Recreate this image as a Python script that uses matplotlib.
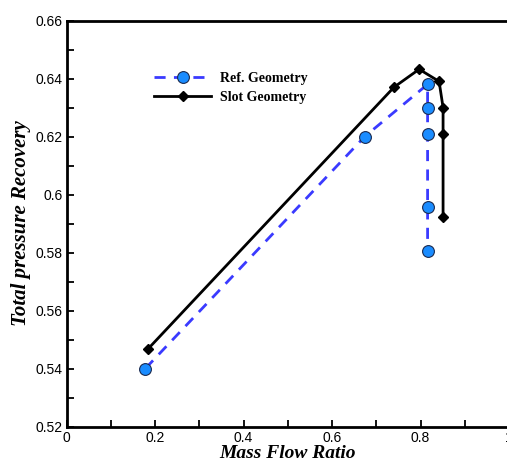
import matplotlib
matplotlib.use('Agg')
import matplotlib.pyplot as plt
import numpy as np
from matplotlib.ticker import MultipleLocator, FuncFormatter

# total pressure recovery vs mass flow ratio
ref_mfr = [0.178, 0.674, 0.816, 0.816, 0.816, 0.816, 0.816]
ref_tpr = [0.540, 0.620, 0.638, 0.630, 0.621, 0.5957, 0.5805]

slot_mfr = [0.183, 0.740, 0.797, 0.842, 0.851, 0.851, 0.851]
slot_tpr = [0.5466, 0.637, 0.6432, 0.639, 0.630, 0.6209, 0.5923]

fig = plt.figure(figsize=(5.07, 4.61), dpi=100)
ax = fig.add_axes([0.1315, 0.0748, 0.8724, 0.8807])

ax.plot(ref_mfr, ref_tpr, color='#3a3aff', ls=(0, (4, 3)), lw=2,
        marker='o', ms=8.5, mfc='#1a8cff', mec='#1a2a50', mew=0.8,
        label='Ref. Geometry', zorder=3)
ax.plot(slot_mfr, slot_tpr, color='black', lw=2,
        marker='D', ms=5, mfc='black', mec='black',
        label='Slot Geometry', zorder=4)

ax.set_xlim(0, 1)
ax.set_ylim(0.52, 0.66)
ax.xaxis.set_major_locator(MultipleLocator(0.2))
ax.xaxis.set_minor_locator(MultipleLocator(0.1))
ax.yaxis.set_major_locator(MultipleLocator(0.02))
ax.yaxis.set_minor_locator(MultipleLocator(0.01))
fmt = FuncFormatter(lambda v, p: f'{round(v, 3):g}')
ax.xaxis.set_major_formatter(fmt)
ax.yaxis.set_major_formatter(fmt)

ax.tick_params(which='both', direction='in', top=False, right=False, width=1.3)
ax.tick_params(which='major', length=5, labelsize=10, pad=3)
ax.tick_params(which='minor', length=5)
for lab in ax.get_xticklabels() + ax.get_yticklabels():
    lab.set_family('Liberation Sans')
for s in ['left', 'bottom', 'top', 'right']:
    ax.spines[s].set_linewidth(2)

ax.set_xlabel('Mass Flow Ratio', labelpad=0, family='Liberation Serif',
              weight='bold', style='italic', fontsize=14)
ax.set_ylabel('Total pressure Recovery', labelpad=3, family='Liberation Serif',
              weight='bold', style='italic', fontsize=15)

ax.legend(loc='upper left', bbox_to_anchor=(0.17, 0.905), frameon=False,
          prop=dict(family='Liberation Serif', weight='bold', size=10),
          handlelength=4.1, handletextpad=0.6, labelspacing=0.45)

fig.savefig('out.png', dpi=100)
